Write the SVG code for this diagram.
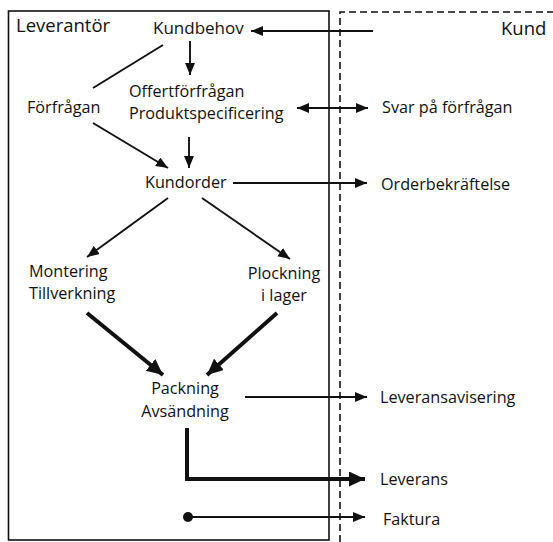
<svg xmlns="http://www.w3.org/2000/svg" width="553" height="542" viewBox="0 0 553 542">
<style>
  text { font-family: "Open Sans", "Noto Sans", "Liberation Sans", sans-serif; font-size: 16.2px; font-weight: 500; fill: #111111; }
  .title { font-size: 18.5px; }
  .thin { stroke: #111111; stroke-width: 1.9; fill: none; }
  .thick { stroke: #111111; stroke-width: 4; fill: none; }
  .frame { stroke: #111111; stroke-width: 1.6; fill: none; }
  .dash { stroke: #111111; stroke-width: 1.6; fill: none; stroke-dasharray: 7 4; }
</style>
<defs>
  <marker id="a" markerUnits="userSpaceOnUse" markerWidth="13" markerHeight="11" refX="12" refY="5" orient="auto-start-reverse">
    <path d="M0,0 L12,5 L0,10 z" fill="#111111"/>
  </marker>
  <marker id="A" markerUnits="userSpaceOnUse" markerWidth="18" markerHeight="16" refX="16" refY="7.5" orient="auto">
    <path d="M0,0 L16,7.5 L0,15 z" fill="#111111"/>
  </marker>
</defs>
<rect width="553" height="542" fill="#ffffff"/>

<g id="frames">
  <rect class="frame" x="8.5" y="11" width="320.5" height="529"/>
  <path class="dash" d="M340,542 V12 H553"/>
</g>

<g id="connectors">
  <line class="thin" x1="373" y1="31" x2="251" y2="31" marker-end="url(#a)"/>
  <line class="thin" x1="190" y1="41" x2="190" y2="75" marker-end="url(#a)"/>
  <line class="thin" x1="163" y1="45" x2="93" y2="88"/>
  <line class="thin" x1="297" y1="108" x2="368" y2="108" marker-start="url(#a)" marker-end="url(#a)"/>
  <line class="thin" x1="93" y1="123" x2="168" y2="168" marker-end="url(#a)"/>
  <line class="thin" x1="189" y1="137" x2="189" y2="168" marker-end="url(#a)"/>
  <line class="thin" x1="233" y1="183" x2="367" y2="183" marker-end="url(#a)"/>
  <line class="thin" x1="168" y1="198" x2="87" y2="257" marker-end="url(#a)"/>
  <line class="thin" x1="202" y1="198" x2="290" y2="259" marker-end="url(#a)"/>
  <line class="thick" x1="87" y1="313" x2="163" y2="375" marker-end="url(#A)"/>
  <line class="thick" x1="277" y1="313" x2="207" y2="375" marker-end="url(#A)"/>
  <line class="thin" x1="245" y1="397" x2="367" y2="397" marker-end="url(#a)"/>
  <path class="thick" d="M187,428 V479 H365" marker-end="url(#A)"/>
  <circle cx="188" cy="517" r="5" fill="#111111"/>
  <line class="thin" x1="188" y1="517" x2="365" y2="517" marker-end="url(#a)"/>
</g>

<g id="leverantor"><text class="title" x="16" y="32">Leverantör</text></g>
<g id="kund"><text class="title" x="501" y="35">Kund</text></g>
<g id="kundbehov"><text x="153" y="34" style="font-size:17px">Kundbehov</text></g>
<g id="forfragan"><text x="27" y="113">Förfrågan</text></g>
<g id="offert"><text x="129" y="97">Offertförfrågan</text><text x="129" y="119">Produktspecificering</text></g>
<g id="svar"><text x="382" y="113">Svar på förfrågan</text></g>
<g id="kundorder"><text x="145" y="188">Kundorder</text></g>
<g id="orderbekraftelse"><text x="381" y="190">Orderbekräftelse</text></g>
<g id="montering"><text x="29" y="277">Montering</text><text x="29" y="299">Tillverkning</text></g>
<g id="plockning"><text x="284" y="279" text-anchor="middle">Plockning</text><text x="284" y="301" text-anchor="middle">i lager</text></g>
<g id="packning"><text x="185" y="394" text-anchor="middle">Packning</text><text x="185" y="417" text-anchor="middle">Avsändning</text></g>
<g id="leveransavisering"><text x="380" y="403">Leveransavisering</text></g>
<g id="leverans"><text x="380" y="485">Leverans</text></g>
<g id="faktura"><text x="383" y="525">Faktura</text></g>
</svg>
